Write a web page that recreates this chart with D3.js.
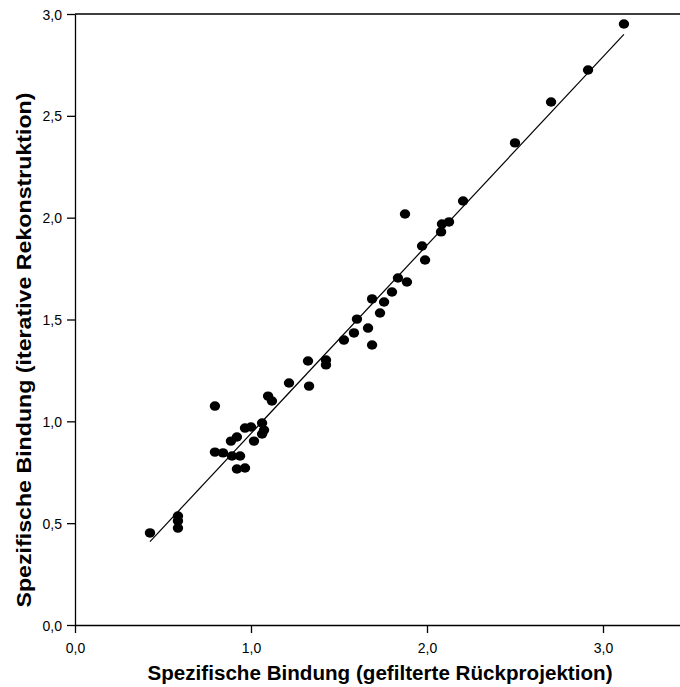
<!DOCTYPE html>
<html>
<head>
<meta charset="utf-8">
<script src="https://cdn.jsdelivr.net/npm/d3@7"></script>
<style>
  html, body { margin: 0; padding: 0; background: #fff; }
  svg { display: block; }
  text { font-family: "Liberation Sans", Arial, sans-serif; fill: #000; }
</style>
</head>
<body>
<svg id="chart" width="680" height="687"></svg>
<script>
// Data: x = filtered back projection, y = iterative reconstruction
const xValues = [0.426, 0.585, 0.585, 0.585, 0.795, 0.795, 0.841, 0.892, 0.938, 0.920, 0.966,
  0.886, 0.920, 0.966, 1.000, 1.017, 1.063, 1.074, 1.063, 1.097, 1.119, 1.216, 1.324, 1.426,
  1.426, 1.330, 1.528, 1.585, 1.602, 1.665, 1.688, 1.688, 1.733, 1.756, 1.801, 1.835, 1.886,
  1.875, 1.972, 1.989, 2.080, 2.085, 2.125, 2.205, 2.500, 2.705, 2.915, 3.119];
const yValues = [0.452, 0.535, 0.511, 0.476, 1.075, 0.849, 0.845, 0.830, 0.830, 0.766, 0.771,
  0.903, 0.923, 0.967, 0.972, 0.903, 0.992, 0.957, 0.938, 1.124, 1.100, 1.188, 1.296, 1.301,
  1.277, 1.173, 1.399, 1.434, 1.502, 1.458, 1.375, 1.601, 1.532, 1.586, 1.635, 1.704, 1.684,
  2.018, 1.861, 1.792, 1.930, 1.969, 1.979, 2.082, 2.367, 2.568, 2.725, 2.951];
const xTicks = [0, 1, 2, 3];
const yTicks = [0, 0.5, 1, 1.5, 2, 2.5, 3];
const xTitle = "Spezifische Bindung (gefilterte Rückprojektion)";
const yTitle = "Spezifische Bindung (iterative Rekonstruktion)";

const svg = d3.select("#chart");
const mLeft = 75, mRight = 680, mTop = 14, mBottom = 625;

const x = d3.scaleLinear().domain([0, (mRight - mLeft) / 176]).range([mLeft, mRight]);
const y = d3.scaleLinear().domain([0, 3]).range([mBottom, mTop]);

const fmt = d => d3.format(".1f")(d).replace(".", ",");

// frame top line
svg.append("line").attr("x1", mLeft).attr("x2", mRight).attr("y1", mTop).attr("y2", mTop)
  .attr("stroke", "#000").attr("stroke-width", 1.3);

const xAxis = svg.append("g").attr("transform", `translate(0,${mBottom})`)
  .call(d3.axisBottom(x).tickValues(xTicks).tickFormat(fmt).tickSize(8).tickSizeOuter(0));
const yAxis = svg.append("g").attr("transform", `translate(${mLeft},0)`)
  .call(d3.axisLeft(y).tickValues(yTicks).tickFormat(fmt).tickSize(8).tickSizeOuter(0));

[xAxis, yAxis].forEach(g => {
  g.select(".domain").attr("stroke", "#000").attr("stroke-width", 1.3);
  g.selectAll(".tick line").attr("stroke", "#000").attr("stroke-width", 1.3);
  g.selectAll(".tick text").attr("font-size", 14).attr("font-family", "Liberation Sans, Arial, sans-serif").attr("fill", "#000");
});
xAxis.selectAll(".tick text").attr("dy", 0).attr("y", 28);
yAxis.selectAll(".tick text").attr("x", -13).attr("dy", "0.36em");

// regression line computed from the data
const n = xValues.length;
const mx = d3.mean(xValues), my = d3.mean(yValues);
let sxy = 0, sxx = 0;
for (let i = 0; i < n; i++) { sxy += (xValues[i] - mx) * (yValues[i] - my); sxx += (xValues[i] - mx) ** 2; }
const slope = sxy / sxx, intercept = my - slope * mx;
const x0 = d3.min(xValues), x1 = d3.max(xValues);
svg.append("line")
  .attr("x1", x(x0)).attr("y1", y(intercept + slope * x0))
  .attr("x2", x(x1)).attr("y2", y(intercept + slope * x1))
  .attr("stroke", "#000").attr("stroke-width", 1.2);

// points
svg.append("g").selectAll("ellipse").data(xValues.map((v, i) => [v, yValues[i]])).join("ellipse")
  .attr("cx", d => x(d[0])).attr("cy", d => y(d[1]))
  .attr("rx", 5.2).attr("ry", 4.7).attr("fill", "#000");

// titles
svg.append("text").attr("x", 380).attr("y", 680).attr("text-anchor", "middle")
  .attr("font-size", 20).attr("font-weight", "bold")
  .attr("textLength", 465).attr("lengthAdjust", "spacingAndGlyphs").text(xTitle);
svg.append("text").attr("transform", `translate(31,350) rotate(-90)`)
  .attr("text-anchor", "middle").attr("font-size", 20).attr("font-weight", "bold")
  .attr("textLength", 515).attr("lengthAdjust", "spacingAndGlyphs").text(yTitle);
</script>
</body>
</html>
